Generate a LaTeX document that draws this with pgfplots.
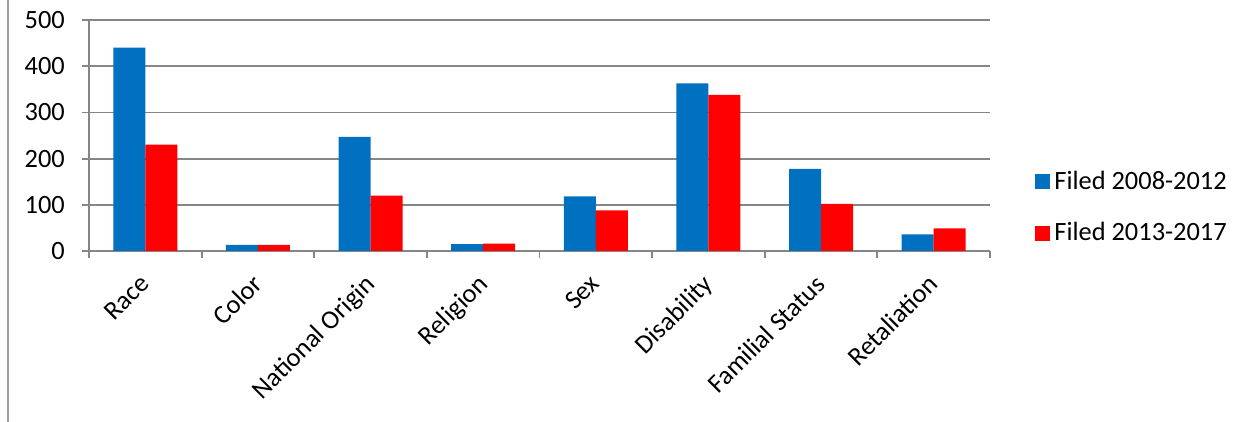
\documentclass[border=0pt]{standalone}
\usepackage{fontspec}
\setmainfont{Carlito}
\usepackage{pgfplots}
\pgfplotsset{compat=1.18}
\definecolor{barblue}{HTML}{0070C0}
\definecolor{barred}{HTML}{FF0000}
\definecolor{gridgray}{HTML}{868686}
\begin{document}
\fontsize{13.2}{15}\selectfont
\begin{tikzpicture}
\useasboundingbox (-44.5pt,-85.5pt) rectangle (580.5pt,125.5pt);
\draw[gridgray!80, line width=0.7pt] (-40.5pt,-85.5pt) -- (-40.5pt,125.5pt);
\begin{axis}[
  at={(0pt,0pt)}, anchor=south west,
  scale only axis, width=450.5pt, height=115.5pt,
  xmin=-0.5, xmax=7.5, ymin=0, ymax=500,
  ybar=0pt, bar width=16pt,
  axis x line*=bottom, axis y line*=left,
  axis line style={gridgray, line width=0.9pt},
  ytick={0,100,...,500},
  ymajorgrids, grid style={gridgray, line width=0.9pt},
  xtick={0,...,7},
  xticklabels={Race,Color,National Origin,Religion,Sex,Disability,Familial Status,Retaliation},
  major x tick style={draw=none},
  minor xtick={-0.5,0.5,...,7.5},
  tick align=outside,
  major tick length=3.5pt, minor tick length=3.5pt,
  tick style={gridgray, line width=0.9pt},
  x tick label style={xshift=-3.5pt, yshift=-1pt, rotate=45, anchor=north east, font=\fontsize{13.2}{15}\selectfont},
  y tick label style={font=\fontsize{13.2}{15}\selectfont, xshift=-4pt},
  /pgf/number format/assume math mode=true,
  legend style={at={(1.05,0.188)}, anchor=west, draw=none, fill=none, inner sep=0pt,
    row sep=10.5pt, font=\fontsize{13.2}{15}\selectfont},
  legend cell align=left,
  legend image code/.code={\fill[#1] (0pt,-3.75pt) rectangle (7.5pt,3.75pt);},
]
\addplot[fill=barblue, draw=none] coordinates {(0,440) (1,13) (2,247) (3,15) (4,118) (5,363) (6,178) (7,36)};
\addplot[fill=barred, draw=none] coordinates {(0,230) (1,13) (2,120) (3,16) (4,88) (5,338) (6,102) (7,49)};
\legend{Filed 2008-2012, Filed 2013-2017}
\end{axis}
\end{tikzpicture}
\end{document}
